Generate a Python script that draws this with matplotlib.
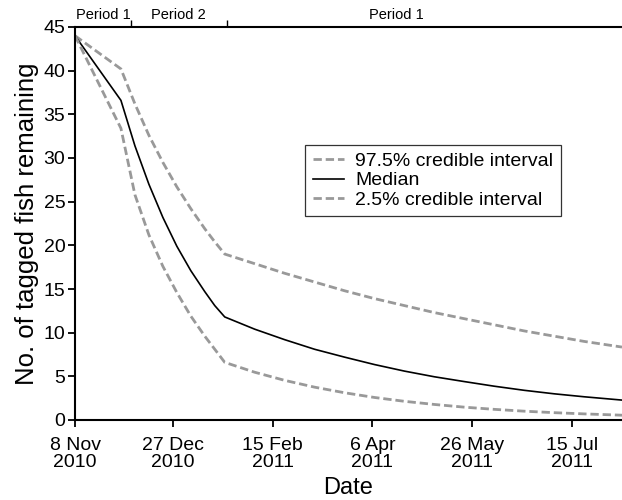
import matplotlib
matplotlib.use("Agg")
import matplotlib.pyplot as plt
import numpy as np
import datetime as dt

# dates and values
dates = ["2010-11-08", "2010-12-01", "2010-12-08", "2010-12-15", "2010-12-22",
         "2010-12-29", "2011-01-05", "2011-01-12", "2011-01-17", "2011-01-22",
         "2011-02-06", "2011-02-21", "2011-03-08", "2011-03-23", "2011-04-07",
         "2011-04-22", "2011-05-07", "2011-05-22", "2011-06-06", "2011-06-21",
         "2011-07-06", "2011-07-21", "2011-08-09"]
upper = [44.0, 40.2, 36.2, 32.6, 29.5, 26.7, 24.2, 21.9, 20.4, 19.0,
         17.9, 16.8, 15.8, 14.8, 13.9, 13.1, 12.3, 11.6, 10.9, 10.2,
         9.6, 9.0, 8.35]
median = [44.0, 36.6, 31.4, 27.0, 23.2, 19.9, 17.1, 14.7, 13.1, 11.8,
          10.4, 9.2, 8.1, 7.2, 6.35, 5.6, 4.95, 4.4, 3.87, 3.4,
          3.0, 2.66, 2.28]
lower = [44.0, 33.4, 25.8, 21.2, 17.6, 14.6, 11.9, 9.6, 8.1, 6.6,
         5.47, 4.54, 3.76, 3.12, 2.58, 2.14, 1.78, 1.47, 1.22, 1.01,
         0.84, 0.70, 0.55]

tick_dates = ["2010-11-08", "2010-12-27", "2011-02-15", "2011-04-06",
              "2011-05-26", "2011-07-15"]
period_bounds = ["2010-12-06", "2011-01-23"]
period_names = ["Period 1", "Period 2", "Period 1"]
period_label_dates = ["2010-11-22", "2010-12-30", "2011-04-18"]


def to_dt(lst):
    return [dt.datetime.strptime(d, "%Y-%m-%d") for d in lst]


x = to_dt(dates)
xt = to_dt(tick_dates)
xb = to_dt(period_bounds)
xl = to_dt(period_label_dates)

plt.rcParams['font.family'] = ['Liberation Sans', 'DejaVu Sans']

fig = plt.figure(figsize=(6.22, 5.0), dpi=100)
ax = fig.add_axes([0.1206, 0.16, 0.8794, 0.786])

grey = "#999999"
ax.plot(x, upper, color=grey, lw=2.0, dashes=(3, 1.4), label="97.5% credible interval")
ax.plot(x, median, color="black", lw=1.2, label="Median")
ax.plot(x, lower, color=grey, lw=2.0, dashes=(3, 1.4), label="2.5% credible interval")

ax.set_xlim(x[0], x[-1])
ax.set_ylim(0, 45)
ax.set_yticks(np.arange(0, 46, 5))
ax.set_xticks(xt)
ax.set_xticklabels([d.strftime("%-d %b\n%Y") for d in xt], linespacing=1.05)

for s in ["left", "bottom"]:
    ax.spines[s].set_linewidth(1.5)
ax.spines["right"].set_visible(False)
ax.spines["top"].set_visible(False)
ax.tick_params(axis="both", direction="out", length=5, width=1.3, labelsize=14)
ax.tick_params(axis="x", pad=7)
ax.tick_params(axis="y", pad=2)

secax = ax.secondary_xaxis("top")
secax.set_xticks(xb)
secax.tick_params(direction="out", length=5, width=1.0, labeltop=False)
secax.spines["top"].set_linewidth(1.5)
for name, d in zip(period_names, xl):
    ax.text(d, 1.012, name, transform=ax.get_xaxis_transform(), ha="center", va="bottom",
            fontsize=10.5)

ax.set_ylabel("No. of tagged fish remaining", fontsize=18.5, labelpad=3)
ax.set_xlabel("Date", fontsize=17, labelpad=4)

leg = ax.legend(loc="upper left", bbox_to_anchor=(0.42, 0.70), fontsize=14,
                frameon=True, fancybox=False, edgecolor="#333333", framealpha=1,
                labelspacing=0.08, handlelength=1.6, handletextpad=0.6,
                borderpad=0.4, borderaxespad=0)
leg.get_frame().set_linewidth(0.9)

fig.savefig("out.png", dpi=100)
